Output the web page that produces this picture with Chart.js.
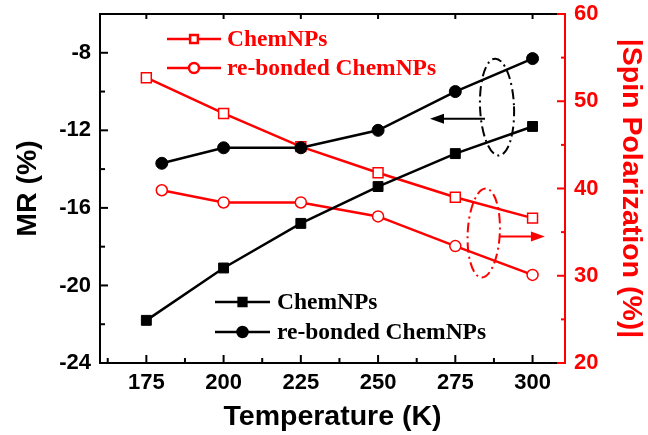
<!DOCTYPE html>
<html>
<head>
<meta charset="utf-8">
<script src="https://cdn.jsdelivr.net/npm/chart.js@4.4.0/dist/chart.umd.min.js"></script>
<style>
html, body { margin: 0; padding: 0; background: #fff; }
</style>
</head>
<body>
<canvas id="c" width="648" height="435"></canvas>
<script>
// temperatures (K)
var tempChem = [175, 200, 225, 250, 275, 300];
var tempRebond = [180, 200, 225, 250, 275, 300];
// MR (%) - left axis
var mrChem = [-21.8, -19.1, -16.8, -14.9, -13.2, -11.8];
var mrRebond = [-13.7, -12.9, -12.9, -12.0, -10.0, -8.3];
// |Spin Polarization| (%) - right axis
var spChem = [52.7, 48.6, 44.8, 41.8, 39.0, 36.6];
var spRebond = [39.8, 38.4, 38.4, 36.8, 33.4, 30.1];
var seriesNames = ['ChemNPs', 're-bonded ChemNPs'];

var black = '#000000';
var red = '#ff0000';
var sansFont = "'Liberation Sans', Arial, sans-serif";
var serifFont = "'Liberation Serif', 'Times New Roman', serif";

function pts(xs, ys) {
	return xs.map(function (t, i) { return { x: t, y: ys[i] }; });
}
function isMultiple(v, step) {
	return Math.abs(v / step - Math.round(v / step)) < 1e-6;
}

var datasets = [
	{ label: seriesNames[0], data: pts(tempChem, mrChem), yAxisID: 'y',
	  borderColor: black, backgroundColor: black, pointBackgroundColor: black,
	  pointStyle: 'rect', pointRadius: 7, pointBorderWidth: 1, borderWidth: 2.5 },
	{ label: seriesNames[1], data: pts(tempRebond, mrRebond), yAxisID: 'y',
	  borderColor: black, backgroundColor: black, pointBackgroundColor: black,
	  pointStyle: 'circle', pointRadius: 6, pointBorderWidth: 1, borderWidth: 2.5 },
	{ label: seriesNames[0], data: pts(tempChem, spChem), yAxisID: 'y1',
	  borderColor: red, backgroundColor: '#fff', pointBackgroundColor: '#fff',
	  pointStyle: 'rect', pointRadius: 7, pointBorderWidth: 1.5, borderWidth: 2.5 },
	{ label: seriesNames[1], data: pts(tempRebond, spRebond), yAxisID: 'y1',
	  borderColor: red, backgroundColor: '#fff', pointBackgroundColor: '#fff',
	  pointStyle: 'circle', pointRadius: 5.5, pointBorderWidth: 1.5, borderWidth: 2.5 }
];

// annotation marks (data units)
var ellipses = [
	{ axis: 'y', x: 288.5, y: -10.8, rx: 5.5, ry: 2.5, tilt: -0.04, color: black },
	{ axis: 'y1', x: 284.2, y: 34.9, rx: 5.2, ry: 5.1, tilt: 0.05, color: red }
];
var arrows = [
	{ axis: 'y', x0: 284.6, x1: 266.8, y: -11.4, color: black },
	{ axis: 'y1', x0: 289.3, x1: 304.0, y: 34.5, color: red }
];

function seg(ctx, x0, y0, x1, y1) {
	ctx.beginPath();
	ctx.moveTo(x0, y0);
	ctx.lineTo(x1, y1);
	ctx.stroke();
}

function legendRow(ctx, ds, x1, x2, y, tx, size, r) {
	ctx.save();
	ctx.strokeStyle = ds.borderColor;
	ctx.lineWidth = 2.5;
	seg(ctx, x1, y, x2, y);
	ctx.fillStyle = ds.pointBackgroundColor;
	Chart.helpers.drawPoint(ctx, { pointStyle: ds.pointStyle, radius: r, borderWidth: ds.pointBorderWidth, rotation: 0 }, (x1 + x2) / 2, y);
	ctx.fillStyle = ds.borderColor;
	ctx.font = 'bold ' + size + 'px ' + serifFont;
	ctx.textBaseline = 'middle';
	ctx.textAlign = 'left';
	ctx.fillText(ds.label, tx, y + 1);
	ctx.restore();
}

var framePlugin = {
	id: 'frame',
	afterDatasetsDraw: function (chart) {
		var ctx = chart.ctx;
		var xs = chart.scales.x;
		ctx.save();
		ctx.lineWidth = 2;
		ellipses.forEach(function (e) {
			var ys = chart.scales[e.axis];
			var cx = xs.getPixelForValue(e.x), cy = ys.getPixelForValue(e.y);
			var rx = Math.abs(xs.getPixelForValue(e.x + e.rx) - cx);
			var ry = Math.abs(ys.getPixelForValue(e.y + e.ry) - cy);
			ctx.strokeStyle = e.color;
			ctx.setLineDash([10, 4, 2, 4]);
			ctx.beginPath();
			ctx.ellipse(cx, cy, rx, ry, e.tilt, 0, Math.PI * 2);
			ctx.stroke();
		});
		ctx.setLineDash([]);
		arrows.forEach(function (a) {
			var ys = chart.scales[a.axis];
			var x0 = xs.getPixelForValue(a.x0), x1 = xs.getPixelForValue(a.x1);
			var y = ys.getPixelForValue(a.y);
			var dir = x1 > x0 ? 1 : -1;
			ctx.strokeStyle = a.color;
			ctx.fillStyle = a.color;
			seg(ctx, x0, y, x1 - dir * 10, y);
			ctx.beginPath();
			ctx.moveTo(x1, y);
			ctx.lineTo(x1 - dir * 14, y - 5);
			ctx.lineTo(x1 - dir * 14, y + 5);
			ctx.closePath();
			ctx.fill();
		});
		ctx.restore();
	},
	afterDraw: function (chart) {
		var ctx = chart.ctx, a = chart.chartArea;
		var xs = chart.scales.x, yl = chart.scales.y, yr = chart.scales.y1;
		ctx.save();
		ctx.lineWidth = 2;
		ctx.strokeStyle = black;
		seg(ctx, a.left - 1, a.top, a.right, a.top);
		// x ticks (bottom inward, top mirror for major ones)
		xs.ticks.forEach(function (t) {
			var major = t.label !== '';
			if (!major && (t.value === xs.min || t.value === xs.max)) return;
			var px = xs.getPixelForValue(t.value);
			seg(ctx, px, a.bottom, px, a.bottom - (major ? 8 : 5));
			if (major) seg(ctx, px, a.top, px, a.top + 5);
		});
		yl.ticks.forEach(function (t) {
			var major = t.label !== '';
			if (!major && (t.value === yl.min || t.value === yl.max)) return;
			var py = yl.getPixelForValue(t.value);
			seg(ctx, a.left, py, a.left + (major ? 8 : 5), py);
		});
		ctx.strokeStyle = red;
		yr.ticks.forEach(function (t) {
			var major = t.label !== '';
			var py = yr.getPixelForValue(t.value);
			seg(ctx, a.right, py, a.right - (major ? 8 : 4), py);
		});
		ctx.restore();

		// legends
		var ds = chart.data.datasets;
		legendRow(ctx, ds[2], 167, 221, 39, 227, 23.5, 5.5);
		legendRow(ctx, ds[3], 167, 221, 68, 227, 23.5, 5);
		legendRow(ctx, ds[0], 215, 270, 302, 277, 23.5, 5.5);
		legendRow(ctx, ds[1], 215, 270, 332, 277, 23.5, 5);
	}
};

var tickFont = { family: sansFont, size: 22, weight: 'bold' };
var titleFont = { family: sansFont, size: 28.5, weight: 'bold', lineHeight: 1 };

function noPadV(s) { s.paddingTop = 0; s.paddingBottom = 0; }

new Chart(document.getElementById('c'), {
	type: 'line',
	data: { datasets: datasets },
	plugins: [framePlugin],
	options: {
		responsive: false,
		animation: false,
		devicePixelRatio: 1,
		layout: { padding: { top: 14, left: 0, right: 0, bottom: 0 } },
		plugins: { legend: { display: false }, tooltip: { enabled: false } },
		elements: { line: { tension: 0 } },
		scales: {
			x: {
				type: 'linear', position: 'bottom', min: 160, max: 310.5,
				afterFit: function (s) { s.height = 72; s.paddingLeft = 0; s.paddingRight = 0; },
				grid: { drawOnChartArea: false, drawTicks: false },
				border: { display: true, color: black, width: 2 },
				ticks: {
					stepSize: 12.5, includeBounds: false, autoSkip: false, maxRotation: 0, padding: 7,
					color: black, font: tickFont,
					callback: function (v) { return isMultiple(v, 25) ? String(Math.round(v)) : ''; }
				},
				title: { display: true, text: 'Temperature (K)', color: black, font: titleFont, padding: { top: 0, bottom: 4 } }
			},
			y: {
				type: 'linear', position: 'left', min: -24, max: -6,
				afterFit: function (s) { s.width = 100; noPadV(s); },
				grid: { drawOnChartArea: false, drawTicks: false },
				border: { display: true, color: black, width: 2 },
				ticks: {
					stepSize: 2, autoSkip: false, padding: 9, color: black, font: tickFont,
					callback: function (v) { return isMultiple(v, 4) ? String(Math.round(v)) : ''; }
				},
				title: { display: true, text: 'MR (%)', color: black, font: titleFont, padding: { top: 14, bottom: 0 } }
			},
			y1: {
				type: 'linear', position: 'right', min: 20, max: 60,
				afterFit: function (s) { s.width = 83; noPadV(s); },
				grid: { drawOnChartArea: false, drawTicks: false },
				border: { display: true, color: red, width: 2 },
				ticks: {
					stepSize: 5, autoSkip: false, padding: 9, color: red, font: tickFont,
					callback: function (v) { return isMultiple(v, 10) ? String(Math.round(v)) : ''; }
				},
				title: { display: true, text: '|Spin Polarization (%)|', color: red, font: titleFont, padding: { top: 3, bottom: 0 } }
			}
		}
	}
});
</script>
</body>
</html>
